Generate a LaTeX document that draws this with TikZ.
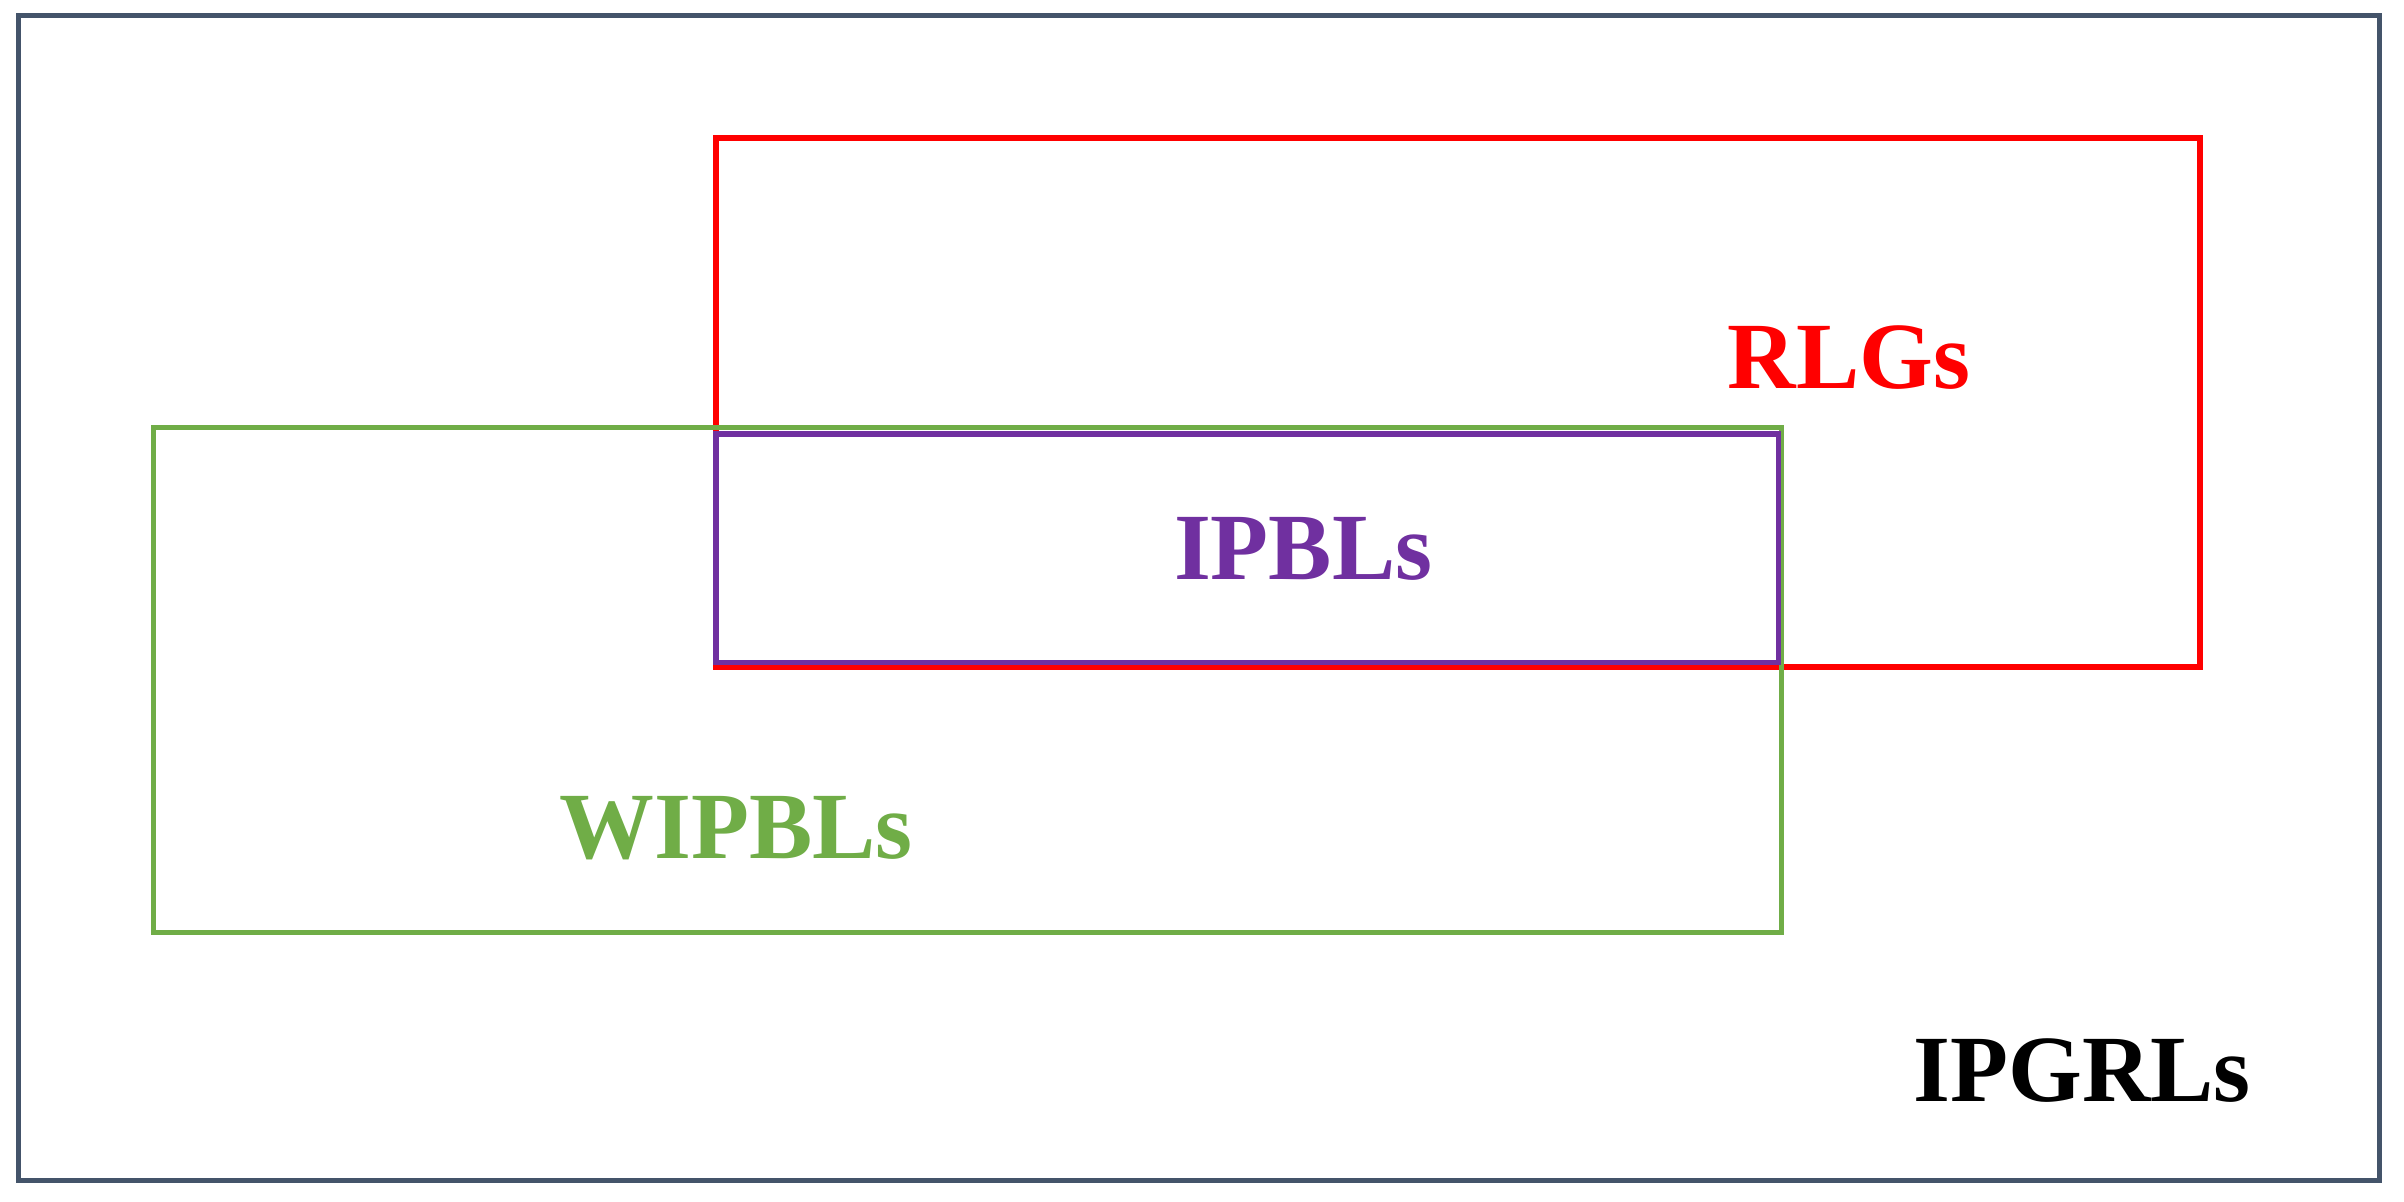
\documentclass[tikz,border=0pt]{standalone}
\usepackage{fontspec}
\setmainfont{Liberation Serif}
\definecolor{outerc}{HTML}{44546A}
\definecolor{redc}{HTML}{FF0000}
\definecolor{greenc}{HTML}{70AD47}
\definecolor{purplec}{HTML}{7030A0}
\begin{document}
\begin{tikzpicture}[x=0.015332cm,y=-0.015332cm,
  box/.style={line width=1.5pt},
  lab/.style={font=\bfseries\fontsize{27}{30}\selectfont, inner sep=0pt}]
\useasboundingbox (0,0) rectangle (1568,784);
\draw[box,outerc] (12,10) rectangle (1552,770);
\draw[box,redc] (467,90) rectangle (1435,435);
\draw[box,greenc] (100,279) rectangle (1162,608);
\draw[box,purplec] (467,283) rectangle (1160,432);
\node[lab,text=redc] (rlg) at (1206,233) {RLGs};
\node[lab,text=purplec] (ipbl) at (850,358) {IPBLs};
\node[lab,text=greenc] (wipbl) at (480,540) {WIPBLs};
\node[lab,text=black] (ipgrl) at (1358,698) {IPGRLs};
\end{tikzpicture}
\end{document}
